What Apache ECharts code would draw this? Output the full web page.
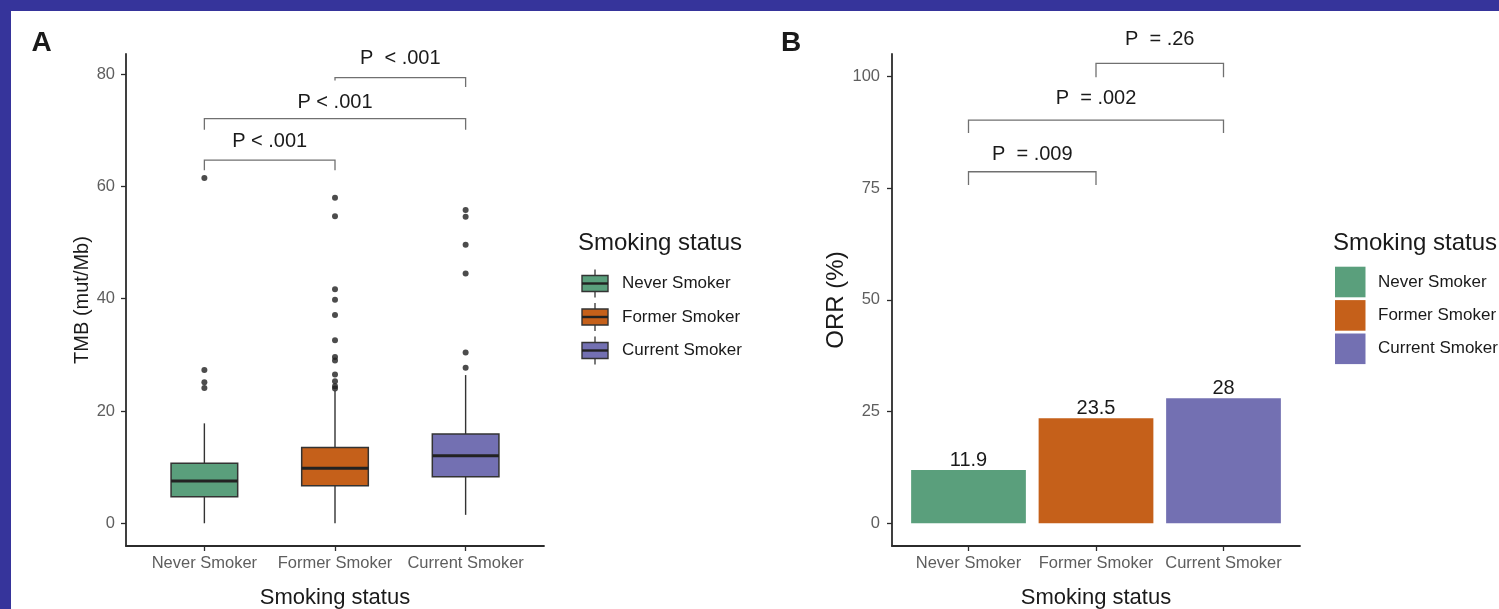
<!DOCTYPE html>
<html>
<head>
<meta charset="utf-8">
<script src="https://cdn.jsdelivr.net/npm/echarts@6/dist/echarts.min.js"></script>
<style>
  html, body { margin: 0; padding: 0; width: 1499px; height: 609px; overflow: hidden; background: #36349b; }
  #sheet { position: absolute; left: 11px; top: 11px; width: 1488px; height: 598px; background: #ffffff; }
  #chart { position: absolute; left: 0; top: 0; width: 1499px; height: 609px; }
</style>
</head>
<body>
<div id="sheet"></div>
<div id="chart"></div>
<script>
// ---- shared categories / colours ----
const categories = ['Never Smoker', 'Former Smoker', 'Current Smoker'];
const groupColors = ['#5a9f7c', '#c5601a', '#7370b2'];
const legendTitle = 'Smoking status';

// ---- panel A: TMB box statistics (mut/Mb) ----
const tmbLow    = [0, 0, 1.5];
const tmbQ1     = [4.74, 6.7, 8.3];
const tmbMedian = [7.53, 9.8, 12.04];
const tmbQ3     = [10.68, 13.5, 15.9];
const tmbHigh   = [17.8, 23.6, 26.4];
const tmbOutliers = [
  [61.5, 27.3, 25.1, 24.1],
  [58.0, 54.7, 41.7, 39.8, 37.1, 32.6, 29.6, 29.0, 26.5, 25.3, 24.4, 24.0],
  [55.8, 54.6, 49.6, 44.5, 30.4, 27.7]
];
const tmbTicks = [0, 20, 40, 60, 80];

// panel A pairwise comparisons
const tmbPairs     = [[1, 2], [1, 3], [2, 3]];
const tmbPLabels   = ['P < .001', 'P < .001', 'P  < .001'];
const tmbBracketY  = [64.7, 72.1, 79.4];
const tmbTipLeft   = [62.9, 70.1, 78.9];
const tmbTipRight  = [62.9, 70.1, 77.7];
const tmbLabelY    = [68.0, 74.9, 82.8];

// ---- panel B: objective response rate (%) ----
const orrValues = [11.9, 23.5, 28];
const orrTicks  = [0, 25, 50, 75, 100];

// panel B pairwise comparisons
const orrPairs     = [[1, 2], [1, 3], [2, 3]];
const orrPLabels   = ['P  = .009', 'P  = .002', 'P  = .26'];
const orrBracketY  = [78.66, 90.2, 102.9];
const orrTipLeft   = [75.7, 87.3, 99.8];
const orrTipRight  = [75.7, 87.3, 99.8];
const orrLabelY    = [82.6, 95.1, 108.3];

// ---- styling ----
const FONT = '"Liberation Sans", Arial, Helvetica, sans-serif';
const INK = '#1a1a1a';
const TICK_INK = '#5e5e5e';
const AXIS_INK = '#2b2b2b';
const catPositions = categories.map((c, i) => i + 1);
const boxWidthUnits = 0.51;
const barWidthUnits = 0.9;

const gridA = { left: 126, top: 54, width: 418, height: 492, outerBoundsMode: 'none', containLabel: false };
const gridB = { left: 892, top: 54, width: 408, height: 492, outerBoundsMode: 'none', containLabel: false };

function xAxisFor(gridIndex) {
  return {
    type: 'value', gridIndex, min: 0.4, max: 3.6,
    name: 'Smoking status', nameLocation: 'middle', nameGap: 41,
    nameTextStyle: { fontFamily: FONT, fontSize: 22, color: INK },
    axisLine: { show: true, onZero: false, lineStyle: { color: AXIS_INK, width: 1.8 } },
    axisTick: { show: true, customValues: catPositions, length: 5, lineStyle: { color: AXIS_INK, width: 1.3 } },
    axisLabel: {
      show: true, customValues: catPositions, margin: 9,
      formatter: v => categories[Math.round(v) - 1] || '',
      fontFamily: FONT, fontSize: 16.5, color: TICK_INK
    },
    splitLine: { show: false }
  };
}
function yAxisFor(gridIndex, min, max, ticks, title, titleSize, gap, margin) {
  return {
    type: 'value', gridIndex, min, max,
    name: title, nameLocation: 'middle', nameRotate: 90, nameGap: gap,
    nameTextStyle: { fontFamily: FONT, fontSize: titleSize, color: INK },
    axisLine: { show: true, onZero: false, lineStyle: { color: AXIS_INK, width: 1.8 } },
    axisTick: { show: true, customValues: ticks, length: 5, lineStyle: { color: AXIS_INK, width: 1.3 } },
    axisLabel: { show: true, customValues: ticks, margin, fontFamily: FONT, fontSize: 16.5, color: TICK_INK },
    splitLine: { show: false }
  };
}

// box + whiskers (no caps) for each smoking group
const boxData = categories.map((c, i) => [i + 1, tmbLow[i], tmbQ1[i], tmbMedian[i], tmbQ3[i], tmbHigh[i]]);
function renderBox(params, api) {
  const x = api.value(0);
  const half = api.size([boxWidthUnits, 0])[0] / 2;
  const pLow = api.coord([x, api.value(1)]);
  const pQ1 = api.coord([x, api.value(2)]);
  const pMed = api.coord([x, api.value(3)]);
  const pQ3 = api.coord([x, api.value(4)]);
  const pHigh = api.coord([x, api.value(5)]);
  const cx = pMed[0];
  const whisker = { stroke: '#333333', lineWidth: 1.4 };
  return {
    type: 'group',
    children: [
      { type: 'line', shape: { x1: cx, y1: pHigh[1], x2: cx, y2: pQ3[1] }, style: whisker },
      { type: 'line', shape: { x1: cx, y1: pQ1[1], x2: cx, y2: pLow[1] }, style: whisker },
      { type: 'rect', shape: { x: cx - half, y: pQ3[1], width: half * 2, height: pQ1[1] - pQ3[1] },
        style: { fill: groupColors[params.dataIndex], stroke: '#333333', lineWidth: 1.5 } },
      { type: 'line', shape: { x1: cx - half, y1: pMed[1], x2: cx + half, y2: pMed[1] },
        style: { stroke: '#222222', lineWidth: 3 } }
    ]
  };
}

const outlierData = [];
tmbOutliers.forEach((list, i) => list.forEach(v => outlierData.push([i + 1, v])));

// significance brackets
function bracketRows(pairs, yb, tl, tr, ty) {
  return pairs.map((p, i) => [p[0], p[1], yb[i], tl[i], tr[i], ty[i]]);
}
function bracketRenderer(labels) {
  return function (params, api) {
    const x1 = api.value(0), x2 = api.value(1);
    const p1 = api.coord([x1, api.value(3)]);
    const p2 = api.coord([x1, api.value(2)]);
    const p3 = api.coord([x2, api.value(2)]);
    const p4 = api.coord([x2, api.value(4)]);
    const pt = api.coord([(x1 + x2) / 2, api.value(5)]);
    return {
      type: 'group',
      children: [
        { type: 'polyline', shape: { points: [p1, p2, p3, p4] },
          style: { stroke: '#707070', lineWidth: 1.3, fill: 'none' } },
        { type: 'text', style: { text: labels[params.dataIndex], x: pt[0], y: pt[1],
          align: 'center', verticalAlign: 'middle', fontFamily: FONT, fontSize: 20, fill: INK } }
      ]
    };
  };
}

// legends drawn as graphic keys
const legendElems = [];
legendElems.push({ type: 'text', left: 578, top: 231, style: { text: legendTitle, fontFamily: FONT, fontSize: 24, fill: INK } });
legendElems.push({ type: 'text', left: 1333, top: 231, style: { text: legendTitle, fontFamily: FONT, fontSize: 24, fill: INK } });
categories.forEach((name, i) => {
  const cy = 283.5 + i * 33.5;
  legendElems.push({ type: 'line', shape: { x1: 595, y1: cy - 14, x2: 595, y2: cy + 14 }, style: { stroke: '#333333', lineWidth: 1.3 } });
  legendElems.push({ type: 'rect', shape: { x: 582, y: cy - 8, width: 26, height: 16 }, style: { fill: groupColors[i], stroke: '#333333', lineWidth: 1.4 } });
  legendElems.push({ type: 'line', shape: { x1: 582, y1: cy, x2: 608, y2: cy }, style: { stroke: '#222222', lineWidth: 2.4 } });
  legendElems.push({ type: 'text', x: 622, y: cy, style: { text: name, fontFamily: FONT, fontSize: 17, fill: INK, verticalAlign: 'middle' } });

  const by = 266.7 + i * 33.4;
  legendElems.push({ type: 'rect', shape: { x: 1335, y: by, width: 30.5, height: 30.6 }, style: { fill: groupColors[i] } });
  legendElems.push({ type: 'text', x: 1378, y: by + 15.3, style: { text: name, fontFamily: FONT, fontSize: 17, fill: INK, verticalAlign: 'middle' } });
});
legendElems.push({ type: 'text', x: 41.5, y: 43, style: { text: 'A', fontFamily: FONT, fontSize: 28, fontWeight: 'bold', fill: INK, align: 'center', verticalAlign: 'middle' } });
legendElems.push({ type: 'text', x: 791, y: 43, style: { text: 'B', fontFamily: FONT, fontSize: 28, fontWeight: 'bold', fill: INK, align: 'center', verticalAlign: 'middle' } });

const chart = echarts.init(document.getElementById('chart'), null, { renderer: 'canvas' });
chart.setOption({
  backgroundColor: 'transparent',
  animation: false,
  grid: [gridA, gridB],
  xAxis: [xAxisFor(0), xAxisFor(1)],
  yAxis: [
    yAxisFor(0, -4.05, 83.6, tmbTicks, 'TMB (mut/Mb)', 20, 34, 11),
    yAxisFor(1, -5.08, 105.0, orrTicks, 'ORR (%)', 24, 44, 12)
  ],
  series: [
    {
      type: 'custom', name: 'TMB', xAxisIndex: 0, yAxisIndex: 0,
      renderItem: renderBox, data: boxData,
      encode: { x: 0, y: [1, 2, 3, 4, 5] }, z: 2
    },
    {
      type: 'scatter', name: 'TMB outliers', xAxisIndex: 0, yAxisIndex: 0,
      data: outlierData, symbol: 'circle', symbolSize: 6,
      itemStyle: { color: '#1f1f1f' }, z: 3
    },
    {
      type: 'custom', name: 'TMB comparisons', xAxisIndex: 0, yAxisIndex: 0,
      renderItem: bracketRenderer(tmbPLabels),
      data: bracketRows(tmbPairs, tmbBracketY, tmbTipLeft, tmbTipRight, tmbLabelY),
      encode: { x: [0, 1], y: [2, 3, 4, 5] }, clip: false, z: 4
    },
    {
      type: 'bar', name: 'ORR', xAxisIndex: 1, yAxisIndex: 1,
      barWidth: barWidthUnits * gridB.width / 3.2,
      data: orrValues.map((v, i) => ({ value: [i + 1, v], itemStyle: { color: groupColors[i] } })),
      label: {
        show: true, position: 'top', distance: 0,
        formatter: p => String(p.value[1]),
        fontFamily: FONT, fontSize: 20, color: INK
      }
    },
    {
      type: 'custom', name: 'ORR comparisons', xAxisIndex: 1, yAxisIndex: 1,
      renderItem: bracketRenderer(orrPLabels),
      data: bracketRows(orrPairs, orrBracketY, orrTipLeft, orrTipRight, orrLabelY),
      encode: { x: [0, 1], y: [2, 3, 4, 5] }, clip: false, z: 4
    }
  ],
  graphic: legendElems
});
</script>
</body>
</html>
